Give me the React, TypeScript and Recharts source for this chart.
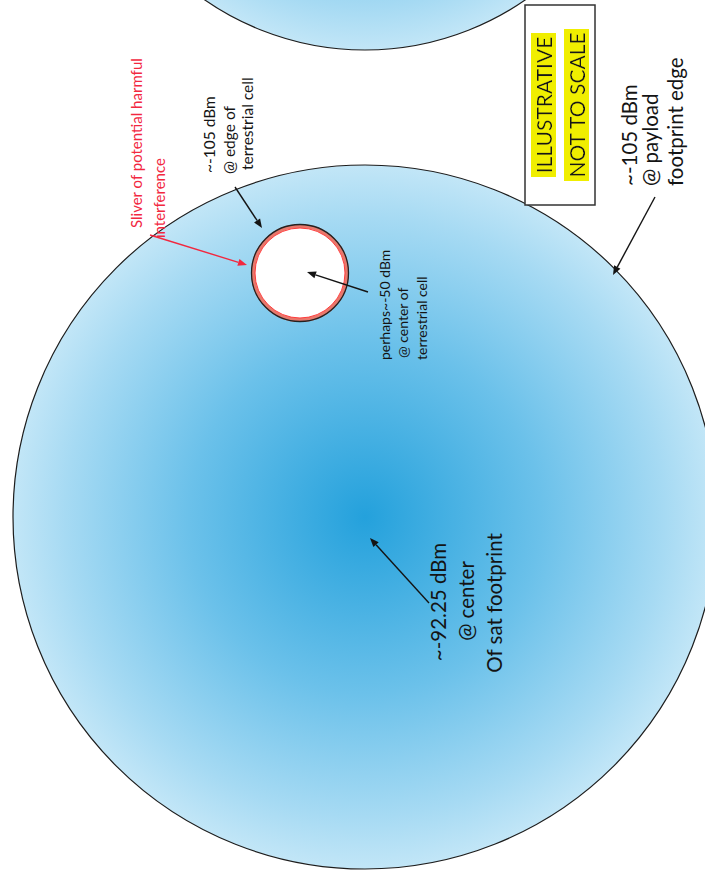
import React from "react";
import {
  ComposedChart,
  XAxis,
  YAxis,
  ReferenceDot,
  ReferenceLine,
  ReferenceArea,
} from "recharts";

const W = 705;
const H = 875;
const FONT = "Lato, 'Open Sans', sans-serif";
const RED = "#f2283f";
const INK = "#141414";

// signal levels from the sketch (dBm)
const payloadEdgeDbm = -105;
const terrestrialEdgeDbm = -105;
const terrestrialCenterDbm = -50;
const satCenterDbm = -92.25;

// text blocks, one entry per line
const sliverNote = ["Sliver of potential harmful", "interference"];
const terrestrialEdgeNote = [`~${terrestrialEdgeDbm} dBm`, "@ edge of", "terrestrial cell"];
const terrestrialCenterNote = [`perhaps~${terrestrialCenterDbm} dBm`, "@ center of", "terrestrial cell"];
const satCenterNote = [`~${satCenterDbm} dBm`, "@ center", "Of sat footprint"];
const payloadEdgeNote = [`~${payloadEdgeDbm} dBm`, "@ payload", "footprint edge"];
const disclaimer = ["ILLUSTRATIVE", "NOT TO SCALE"];

// layout (diagram units == px)
const footprints = [
  { id: "neighbour", x: 365, y: -231, r: 281 },
  { id: "main", x: 365, y: 517, r: 352 },
];
const terrestrialCell = { x: 300, y: 273, r: 48 };

const arrows = [
  { x1: 235, y1: 187, x2: 262, y2: 228, color: INK },
  { x1: 150, y1: 235, x2: 247, y2: 265, color: RED },
  { x1: 368, y1: 292, x2: 307, y2: 272, color: INK },
  { x1: 429, y1: 603, x2: 370, y2: 538, color: INK },
  { x1: 655, y1: 197, x2: 613, y2: 275, color: INK },
];

type Block = {
  lines: string[];
  xs: number[];
  ys: number[];
  size: number;
  color: string;
  anchor: "start" | "middle";
  highlight?: boolean;
};

const blocks: Block[] = [
  { lines: sliverNote, xs: [142, 165], ys: [228, 238], size: 15, color: RED, anchor: "start" },
  { lines: terrestrialEdgeNote, xs: [215, 235, 253], ys: [173, 174, 170], size: 15.5, color: INK, anchor: "start" },
  { lines: terrestrialCenterNote, xs: [390, 408, 427], ys: [360, 358, 360], size: 14, color: INK, anchor: "start" },
  { lines: satCenterNote, xs: [446, 474, 502], ys: [602, 601, 603], size: 20.5, color: INK, anchor: "middle" },
  { lines: payloadEdgeNote, xs: [637, 658, 683], ys: [186, 186, 186], size: 20.5, color: INK, anchor: "start" },
  { lines: disclaimer, xs: [552, 585], ys: [105, 105], size: 21, color: INK, anchor: "middle", highlight: true },
];

const box = { x1: 525, x2: 595, y1: 5, y2: 205 };

function Footprint(props: any) {
  const { x, y, width, height, gid } = props;
  const cx = x + width / 2;
  const cy = y + height / 2;
  const r = width / 2;
  return (
    <g>
      <defs>
        <radialGradient id={gid} cx="50%" cy="50%" r="50%">
          <stop offset="0%" stopColor="#24a1dc" />
          <stop offset="50%" stopColor="#6bc1ea" />
          <stop offset="85%" stopColor="#a6daf3" />
          <stop offset="100%" stopColor="#c2e6f7" />
        </radialGradient>
      </defs>
      <circle cx={cx} cy={cy} r={r} fill={`url(#${gid})`} stroke="#1d1d1d" strokeWidth={1.2} />
    </g>
  );
}

function CellShape(props: any) {
  const { x, y, width, height } = props;
  const cx = x + width / 2;
  const cy = y + height / 2;
  const r = width / 2;
  return (
    <g>
      <circle cx={cx} cy={cy} r={r - 1} fill="#ffffff" stroke="#e8786c" strokeWidth={4} />
      <circle cx={cx} cy={cy} r={r - 3} fill="none" stroke="#ff3b3b" strokeWidth={1} />
      <circle cx={cx} cy={cy} r={r + 0.5} fill="none" stroke="#222" strokeWidth={1.3} />
    </g>
  );
}

function ArrowShape(props: any) {
  const { x1, y1, x2, y2, color } = props;
  const a = Math.atan2(y2 - y1, x2 - x1);
  const len = 9;
  const half = 3.6;
  const bx = x2 - len * Math.cos(a);
  const by = y2 - len * Math.sin(a);
  const px = -Math.sin(a) * half;
  const py = Math.cos(a) * half;
  return (
    <g>
      <line x1={x1} y1={y1} x2={bx} y2={by} stroke={color} strokeWidth={1.4} />
      <polygon points={`${x2},${y2} ${bx + px},${by + py} ${bx - px},${by - py}`} fill={color} />
    </g>
  );
}

function TextShape(props: any) {
  const { cx, cy, text, size, color, anchor, highlight } = props;
  return (
    <text
      x={cx}
      y={cy}
      transform={`rotate(-90 ${cx} ${cy})`}
      fontFamily={FONT}
      fontSize={size}
      fill={color}
      textAnchor={anchor}
      filter={highlight ? "url(#hl)" : undefined}
    >
      {text}
    </text>
  );
}

function BoxShape(props: any) {
  const { x, y, width, height } = props;
  return (
    <g>
      <defs>
        <filter id="hl" x="-0.02" y="0.02" width="1.04" height="0.98">
          <feFlood floodColor="#f0ee00" />
          <feComposite in="SourceGraphic" operator="over" />
        </filter>
      </defs>
      <rect x={x} y={y} width={width} height={height} fill="#fff" stroke="#333" strokeWidth={1.5} />
    </g>
  );
}

export default function App() {
  return (
    <div style={{ position: "absolute", left: 0, top: 0, background: "#fff" }}>
      <ComposedChart width={W} height={H} margin={{ top: 0, right: 0, bottom: 0, left: 0 }}>
        <XAxis type="number" dataKey="x" domain={[0, W]} hide allowDataOverflow />
        <YAxis type="number" dataKey="y" domain={[0, H]} reversed hide allowDataOverflow />

        {footprints.map((f) => (
          <ReferenceArea
            key={f.id}
            x1={f.x - f.r}
            x2={f.x + f.r}
            y1={f.y - f.r}
            y2={f.y + f.r}
            ifOverflow="visible"
            shape={(p: any) => <Footprint {...p} gid={`grad-${f.id}`} />}
          />
        ))}

        <ReferenceArea
          x1={terrestrialCell.x - terrestrialCell.r}
          x2={terrestrialCell.x + terrestrialCell.r}
          y1={terrestrialCell.y - terrestrialCell.r}
          y2={terrestrialCell.y + terrestrialCell.r}
          shape={(p: any) => <CellShape {...p} />}
        />

        <ReferenceArea
          x1={box.x1}
          x2={box.x2}
          y1={box.y1}
          y2={box.y2}
          shape={(p: any) => <BoxShape {...p} />}
        />

        {arrows.map((a, i) => (
          <ReferenceLine
            key={`arrow-${i}`}
            segment={[
              { x: a.x1, y: a.y1 },
              { x: a.x2, y: a.y2 },
            ]}
            shape={(p: any) => <ArrowShape {...p} color={a.color} />}
          />
        ))}

        {blocks.flatMap((b, bi) =>
          b.lines.map((line, li) => (
            <ReferenceDot
              key={`t-${bi}-${li}`}
              x={b.xs[li]}
              y={b.ys[li]}
              r={1}
              shape={(p: any) => (
                <TextShape
                  {...p}
                  text={line}
                  size={b.size}
                  color={b.color}
                  anchor={b.anchor}
                  highlight={b.highlight}
                />
              )}
            />
          ))
        )}
      </ComposedChart>
    </div>
  );
}
